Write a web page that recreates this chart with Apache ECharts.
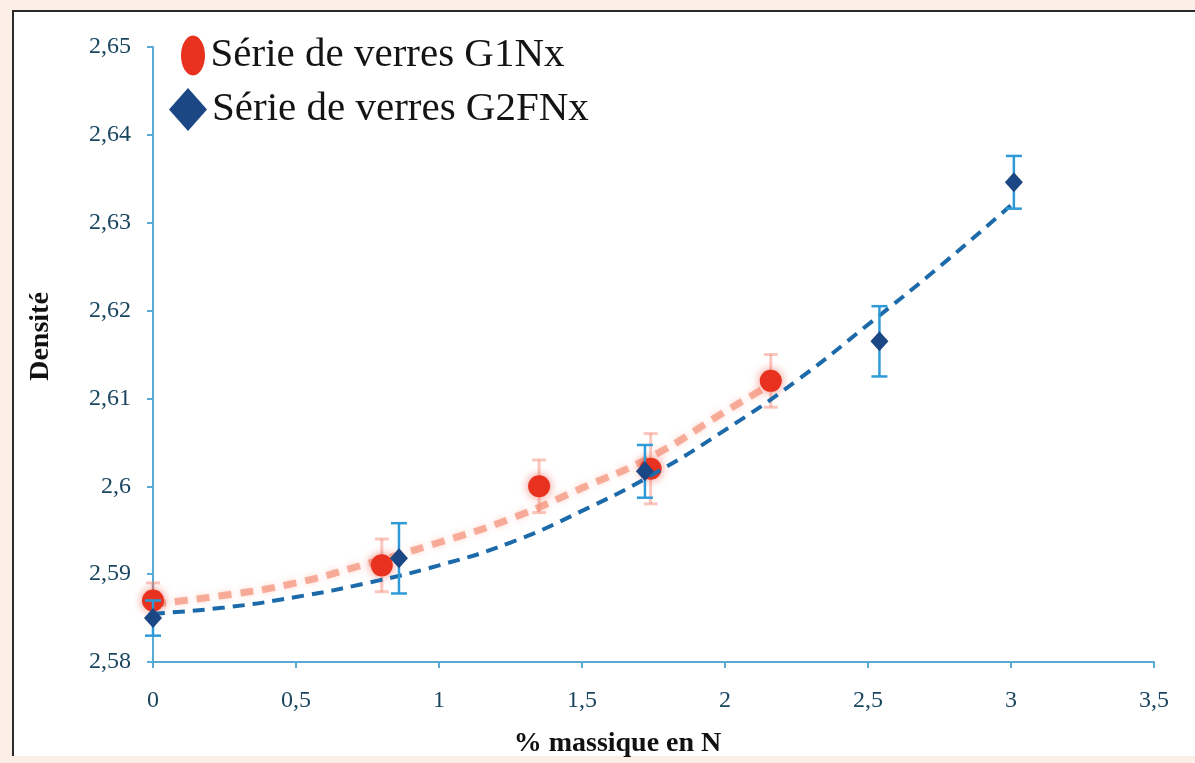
<!DOCTYPE html>
<html>
<head>
<meta charset="utf-8">
<script src="https://cdn.jsdelivr.net/npm/echarts@6/dist/echarts.min.js"></script>
<style>
  html, body { margin: 0; padding: 0; }
  body { width: 1195px; height: 763px; background: #fcefe8; position: relative; overflow: hidden; }
  #frame { position: absolute; left: 12px; top: 10px; width: 1183px; height: 746px;
           background: #ffffff; border-left: 2px solid #2a2a2a; border-top: 2px solid #2a2a2a; box-sizing: border-box; }
  #chart { position: absolute; left: 0; top: 0; width: 1195px; height: 763px; }
</style>
</head>
<body>
<div id="frame"></div>
<div id="chart"></div>
<script>
// Densité des verres en fonction du % massique d'azote
const g1Name = 'Série de verres G1Nx';
const g2Name = 'Série de verres G2FNx';

const g1X = [0, 0.80, 1.35, 1.74, 2.16];
const g1Y = [2.587, 2.591, 2.600, 2.602, 2.612];
const g1Err = [0.002, 0.003, 0.003, 0.004, 0.003];

const g2X = [0, 0.86, 1.72, 2.54, 3.01];
const g2Y = [2.585, 2.5918, 2.6017, 2.6165, 2.6346];
const g2Err = [0.002, 0.004, 0.003, 0.004, 0.003];

// Courbes de tendance (pointillés)
const g1TrendX = [0, 0.25, 0.5, 0.75, 1.0, 1.25, 1.5, 1.75, 2.0, 2.17];
const g1TrendY = [2.5866, 2.5876, 2.5890, 2.5912, 2.5936, 2.5963, 2.5998, 2.6035, 2.6085, 2.6118];
const g2TrendX = [0, 0.25, 0.5, 0.75, 1.0, 1.25, 1.5, 1.75, 2.0, 2.25, 2.5, 2.75, 3.0];
const g2TrendY = [2.5855, 2.5862, 2.5874, 2.5890, 2.5910, 2.5936, 2.5972, 2.6014, 2.6064, 2.6120, 2.6184, 2.6250, 2.6320];

const xTicks = { min: 0, max: 3.5, interval: 0.5 };
const yTicks = { min: 2.58, max: 2.65, interval: 0.01 };

const serif = '"Liberation Serif", "DejaVu Serif", serif';
const axisBlue = '#5aaad6';
const labelColor = '#1a4660';
const redMark = '#e8321f';
const navy = '#1b4784';

const fmt = v => String(+v.toFixed(2)).replace('.', ',');
const pairs = (xs, ys) => xs.map((x, i) => [x, ys[i]]);

function errorBars(name, xs, ys, errs, color, width, capHalf, z) {
  return {
    type: 'custom',
    name: name,
    z: z,
    silent: true,
    encode: { x: 0, y: [1, 2] },
    data: xs.map((x, i) => [x, ys[i] - errs[i], ys[i] + errs[i]]),
    renderItem: function (params, api) {
      const lo = api.coord([api.value(0), api.value(1)]);
      const hi = api.coord([api.value(0), api.value(2)]);
      const style = { stroke: color, lineWidth: width };
      return {
        type: 'group',
        children: [
          { type: 'line', shape: { x1: lo[0], y1: lo[1], x2: hi[0], y2: hi[1] }, style: style },
          { type: 'line', shape: { x1: lo[0] - capHalf, y1: lo[1], x2: lo[0] + capHalf, y2: lo[1] }, style: style },
          { type: 'line', shape: { x1: hi[0] - capHalf, y1: hi[1], x2: hi[0] + capHalf, y2: hi[1] }, style: style }
        ]
      };
    }
  };
}

const ellipseIcon = 'path://M12,0 C18.6,0 24,9 24,20 C24,31 18.6,40 12,40 C5.4,40 0,31 0,20 C0,9 5.4,0 12,0 Z';

const chart = echarts.init(document.getElementById('chart'), null, { renderer: 'canvas' });
chart.setOption({
  animation: false,
  backgroundColor: 'transparent',
  grid: { left: 153, right: 41, top: 47, bottom: 98, containLabel: false },
  legend: [
    {
      left: 176, top: 30, orient: 'vertical',
      itemWidth: 25, itemHeight: 40,
      data: [{ name: g1Name, icon: ellipseIcon, itemStyle: { color: redMark, opacity: 1 } }],
      textStyle: { fontFamily: serif, fontSize: 41, color: '#141414' }
    },
    {
      left: 164, top: 83, orient: 'vertical',
      itemWidth: 38, itemHeight: 43,
      data: [{ name: g2Name, icon: 'diamond', itemStyle: { color: navy, opacity: 1 } }],
      textStyle: { fontFamily: serif, fontSize: 41, color: '#141414' }
    }
  ],
  xAxis: {
    type: 'value',
    min: xTicks.min, max: xTicks.max, interval: xTicks.interval,
    name: '% massique en N',
    nameLocation: 'middle', nameGap: 68,
    nameTextStyle: { fontFamily: serif, fontSize: 28, fontWeight: 'bold', color: '#111', padding: [0, 72, 0, 0] },
    axisLine: { show: true, lineStyle: { color: axisBlue, width: 2 } },
    axisTick: { show: true, length: 6, lineStyle: { color: axisBlue, width: 2 } },
    axisLabel: { formatter: fmt, fontFamily: serif, fontSize: 24, color: labelColor, margin: 27 },
    splitLine: { show: false }
  },
  yAxis: {
    type: 'value',
    min: yTicks.min, max: yTicks.max, interval: yTicks.interval,
    name: 'Densité',
    nameLocation: 'middle', nameGap: 98, nameRotate: 90,
    nameTextStyle: { fontFamily: serif, fontSize: 28, fontWeight: 'bold', color: '#111', padding: [0, 0, 0, 36] },
    axisLine: { show: true, lineStyle: { color: axisBlue, width: 2 } },
    axisTick: { show: true, length: 6, lineStyle: { color: axisBlue, width: 2 } },
    axisLabel: { formatter: fmt, fontFamily: serif, fontSize: 24, color: labelColor, margin: 22 },
    splitLine: { show: false }
  },
  series: [
    {
      type: 'line', name: 'g1-trend', z: 2, silent: true,
      data: pairs(g1TrendX, g1TrendY), smooth: true, showSymbol: false,
      lineStyle: { color: 'rgba(244,150,125,0.75)', width: 7, type: [13, 9], shadowBlur: 6, shadowColor: 'rgba(244,150,125,0.5)' }
    },
    errorBars('g1-err', g1X, g1Y, g1Err, 'rgba(242,130,110,0.45)', 3, 7, 3),
    {
      type: 'scatter', name: g1Name, z: 4,
      data: pairs(g1X, g1Y), symbol: 'circle', symbolSize: 22,
      itemStyle: { color: redMark, opacity: 1, shadowBlur: 10, shadowColor: 'rgba(232,50,31,0.6)' }
    },
    {
      type: 'line', name: 'g2-trend', z: 5, silent: true,
      data: pairs(g2TrendX, g2TrendY), smooth: true, showSymbol: false,
      lineStyle: { color: '#1c6aa9', width: 4, type: [12, 8] }
    },
    errorBars('g2-err', g2X, g2Y, g2Err, '#2e9ad8', 2.5, 8, 6),
    {
      type: 'scatter', name: g2Name, z: 7,
      data: pairs(g2X, g2Y), symbol: 'diamond', symbolSize: [18, 20],
      itemStyle: { color: navy, opacity: 1 }
    }
  ]
});
</script>
</body>
</html>
